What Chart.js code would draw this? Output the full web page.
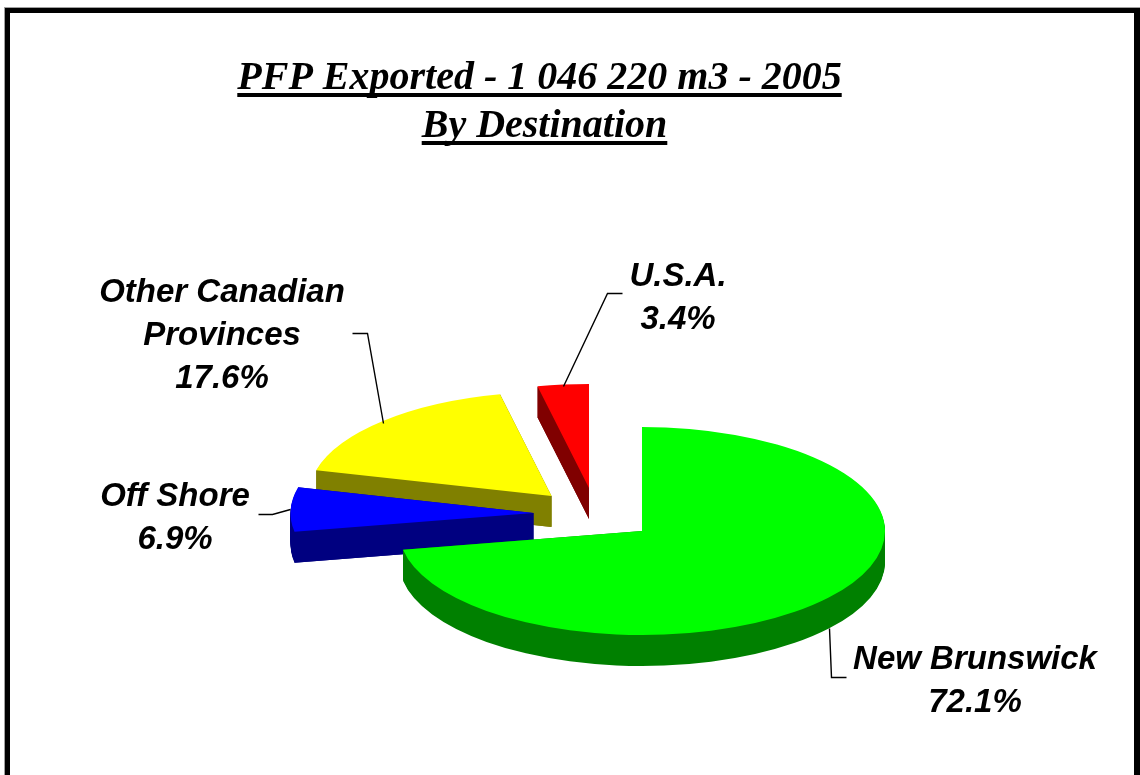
<!DOCTYPE html>
<html>
<head>
<meta charset="utf-8">
<title>PFP Exported by Destination</title>
<style>
html,body{margin:0;padding:0;background:#fff;overflow:hidden}
#wrap{position:absolute;left:0;top:0;width:1140px;height:775px}
</style>
<script src="https://cdn.jsdelivr.net/npm/chart.js@4/dist/chart.umd.min.js"></script>
</head>
<body>
<div id="wrap"><canvas id="c" width="1140" height="775"></canvas></div>
<script>
// ---- data ----
const categories = ['New Brunswick', 'Off Shore', 'Other Canadian Provinces', 'U.S.A.'];
const labelLines = [['New Brunswick'], ['Off Shore'], ['Other Canadian', 'Provinces'], ['U.S.A.']];
const shares = [72.1, 6.9, 17.6, 3.4];
const topColors = ['#00ff00', '#0000ff', '#ffff00', '#ff0000'];
const sideColors = ['#008000', '#000080', '#808000', '#800000'];
const titleLines = ['PFP Exported - 1 046 220 m3 - 2005 ', 'By Destination'];

// ---- presentation ----
const pie = { cx: 642, cy: 531, radius: 243, squash: 0.428, depth: 31 };
const sliceShift = [[0, 0], [-108.5, -18], [-90.5, -35], [-53, -43]];
const drawOrder = [2, 3, 1, 0];
const labelPlace = [
  { x: 975, y: 669, leader: [[846, 677], [831, 677], [829, 628]] },
  { x: 175, y: 506, leader: [[258, 514], [272, 514], [290, 509]] },
  { x: 222, y: 302, leader: [[352, 333], [367, 333], [383, 423]] },
  { x: 678, y: 286, leader: [[622, 293], [607, 293], [563, 386]] }
];
const labelFont = 'italic bold 33px "Liberation Sans"';
const labelLeading = 43;
const titleLeading = 48;

const pie3d = {
  id: 'pie3d',
  beforeDraw(chart) {
    const ctx = chart.ctx;
    ctx.save();
    ctx.fillStyle = '#fff';
    ctx.fillRect(0, 0, chart.width, chart.height);
    ctx.fillStyle = '#a0a0a0';
    ctx.fillRect(4, 7, 1136, 1);
    ctx.fillRect(4, 7, 1, 768);
    ctx.fillStyle = '#000';
    ctx.fillRect(5, 8, 1135, 5);
    ctx.fillRect(5, 8, 5, 767);
    ctx.fillRect(1134, 8, 6, 767);
    ctx.restore();
  },
  beforeDatasetsDraw(chart) {
    const ctx = chart.ctx;
    const arcs = chart.getDatasetMeta(0).data;
    drawOrder.forEach(i => {
      const arc = arcs[i];
      const [sx, sy] = sliceShift[i];
      const place = dy => {
        ctx.save();
        ctx.translate(pie.cx + sx, pie.cy + sy + dy);
        ctx.scale(1, pie.squash);
        ctx.translate(-arc.x, -arc.y);
      };
      const own = arc.options;
      arc.options = Object.assign({}, own, { backgroundColor: sideColors[i] });
      for (let d = pie.depth; d >= 1; d--) {
        place(d);
        arc.draw(ctx);
        ctx.restore();
      }
      arc.options = own;
      // flat faces of the two cut edges, so the narrow tip stays solid
      const tipX = pie.cx + sx, tipY = pie.cy + sy;
      ctx.fillStyle = sideColors[i];
      [arc.startAngle, arc.endAngle].forEach(a => {
        const ex = tipX + arc.outerRadius * Math.cos(a);
        const ey = tipY + arc.outerRadius * pie.squash * Math.sin(a);
        ctx.beginPath();
        ctx.moveTo(tipX, tipY);
        ctx.lineTo(ex, ey);
        ctx.lineTo(ex, ey + pie.depth);
        ctx.lineTo(tipX, tipY + pie.depth);
        ctx.closePath();
        ctx.fill();
      });
      place(0);
      arc.draw(ctx);
      ctx.restore();
    });
    return false;
  },
  afterDraw(chart) {
    const ctx = chart.ctx;
    ctx.save();
    // title underlines
    const tb = chart.titleBlock;
    const tf = tb.options.font;
    ctx.font = `${tf.style} ${tf.weight} ${tf.size}px ${tf.family}`;
    const mid = (tb.left + tb.right) / 2;
    ctx.fillStyle = '#000';
    titleLines.forEach((line, i) => {
      const full = ctx.measureText(line).width;
      const seen = ctx.measureText(line.trimEnd()).width;
      const y = tb.top + tb.options.padding.top + titleLeading * (i + 0.5) + 14;
      ctx.fillRect(mid - full / 2, y, seen, 4);
    });
    // leaders
    ctx.strokeStyle = '#000';
    ctx.lineWidth = 1.4;
    labelPlace.forEach(p => {
      ctx.beginPath();
      p.leader.forEach(([x, y], k) => k ? ctx.lineTo(x + 0.5, y + 0.5) : ctx.moveTo(x + 0.5, y + 0.5));
      ctx.stroke();
    });
    // labels
    ctx.font = labelFont;
    ctx.textAlign = 'center';
    ctx.textBaseline = 'alphabetic';
    ctx.fillStyle = '#000';
    labelPlace.forEach((p, i) => {
      const lines = labelLines[i].concat(shares[i].toFixed(1) + '%');
      lines.forEach((t, k) => ctx.fillText(t, p.x, p.y + k * labelLeading));
    });
    ctx.restore();
  }
};

new Chart(document.getElementById('c'), {
  type: 'pie',
  data: {
    labels: categories,
    datasets: [{ data: shares, backgroundColor: topColors, borderWidth: 0, radius: pie.radius }]
  },
  options: {
    responsive: false,
    animation: false,
    layout: { padding: { right: 51 } },
    events: [],
    plugins: {
      legend: { display: false },
      tooltip: { enabled: false },
      title: {
        display: true,
        text: titleLines,
        color: '#000',
        font: { family: '"Liberation Serif"', size: 40, style: 'italic', weight: 'bold', lineHeight: titleLeading / 40 },
        padding: { top: 55, bottom: 10 }
      }
    }
  },
  plugins: [pie3d]
});
</script>
</body>
</html>
